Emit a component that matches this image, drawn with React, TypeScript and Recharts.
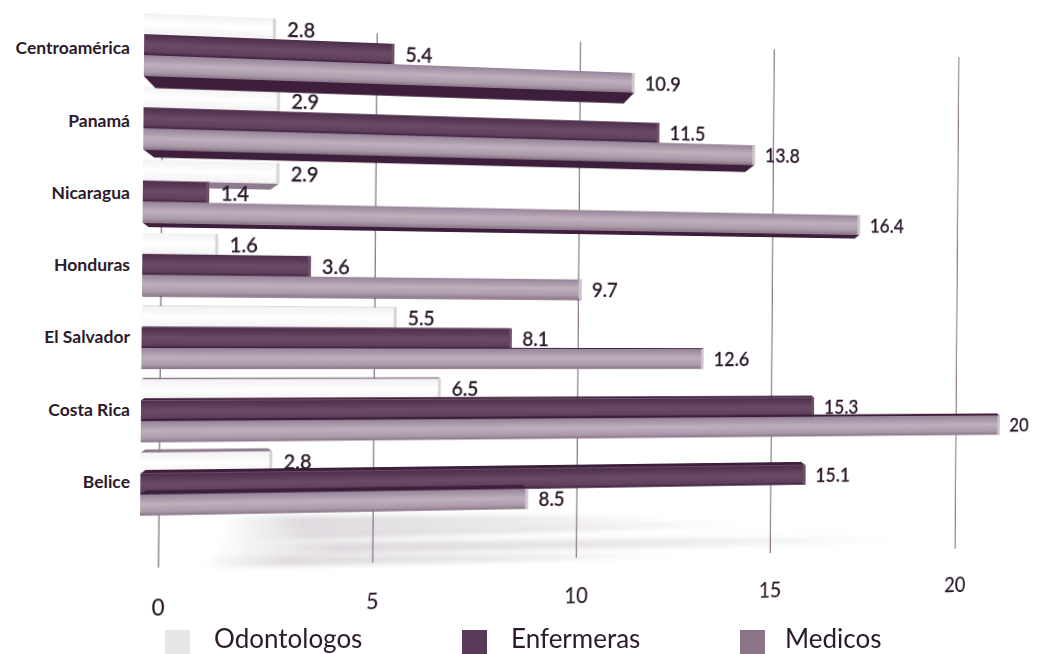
import React from 'react';
import { BarChart, Bar, XAxis, YAxis, CartesianGrid, LabelList } from 'recharts';

const paises = ['Centroamérica', 'Panamá', 'Nicaragua', 'Honduras', 'El Salvador', 'Costa Rica', 'Belice'];
const odontologos = [2.8, 2.9, 2.9, 1.6, 5.5, 6.5, 2.8];
const enfermeras = [5.4, 11.5, 1.4, 3.6, 8.1, 15.3, 15.1];
const medicos = [10.9, 13.8, 16.4, 9.7, 12.6, 20, 8.5];
const escala = [0, 5, 10, 15, 20];

const data = paises.map((pais, i) => ({
  pais,
  odontologos: odontologos[i],
  enfermeras: enfermeras[i],
  medicos: medicos[i],
}));

const TEXT = '#2c1a2b';
const FONT = 'Lato, "Open Sans", sans-serif';
const HORIZON = 300;

// front face plus the side of the bar that shows from the viewer's height
const bar3d = (gradient: string, side: string, cap: string) => (props: any) => {
  const { x, y, width, height } = props;
  const mid = y + height / 2;
  const above = mid < HORIZON;
  const depth = above ? (HORIZON - mid) * 0.05 : (mid - HORIZON) * 0.02;
  const chamfer = Math.min(depth * 1.4, 12);
  const right = x + width;
  const faceEdge = above
    ? `${x},${y + height} ${right},${y + height} ${right - chamfer},${y + height + depth} ${x + chamfer},${y + height + depth}`
    : `${x},${y} ${right},${y} ${right - chamfer},${y - depth} ${x + chamfer},${y - depth}`;
  return (
    <g>
      <polygon points={faceEdge} fill={side} />
      <rect x={x} y={y} width={width} height={height} fill={`url(#${gradient})`} />
      <rect x={right - 3} y={y} width={3} height={height} fill={cap} />
    </g>
  );
};

const series = [
  { key: 'odontologos', name: 'Odontologos', swatch: '#e9e6e9', shape: bar3d('gradOdonto', '#8d7a8b', '#d8d3d8') },
  { key: 'enfermeras', name: 'Enfermeras', swatch: '#59395a', shape: bar3d('gradEnf', '#3d1f3b', '#6f5169') },
  { key: 'medicos', name: 'Medicos', swatch: '#8c7488', shape: bar3d('gradMed', '#3d1f3b', '#cfc5cd') },
];

const streaks = [
  '224,516 668,515 668,520 222,531',
  '222,531 744,520 744,526 218,543',
  '218,543 897,536 897,543 212,556',
  '212,556 680,553 680,558 200,568',
];

export default function App() {
  return (
    <div style={{ position: 'absolute', left: 0, top: 0, width: 1039, height: 654, overflow: 'hidden', background: '#fff', fontFamily: FONT }}>
      {/* flat layer: country names and floor shading */}
      <div style={{ position: 'absolute', left: 0, top: 0 }}>
        <BarChart width={1039} height={654} layout="vertical" data={data} margin={{ top: 12, right: 0, bottom: 86, left: 0 }}>
          <defs>
            <linearGradient id="gradFloor" x1="0" y1="0" x2="1" y2="0">
              <stop offset="0" stopColor="#dcd8dc" stopOpacity="0" />
              <stop offset="0.18" stopColor="#dcd8dc" stopOpacity="0.95" />
              <stop offset="0.65" stopColor="#dcd8dc" stopOpacity="0.6" />
              <stop offset="1" stopColor="#dcd8dc" stopOpacity="0" />
            </linearGradient>
            <filter id="floorBlur" x="-5%" y="-20%" width="110%" height="140%">
              <feGaussianBlur stdDeviation="2.5" />
            </filter>
          </defs>
          <XAxis type="number" hide domain={[0, 20]} />
          <YAxis
            type="category"
            dataKey="pais"
            width={143}
            interval={0}
            padding={{ top: 0, bottom: 50 }}
            axisLine={false}
            tickLine={false}
            tickMargin={7}
            tick={{ fill: TEXT, fontSize: 17.5, fontWeight: 700, fontFamily: FONT }}
          />
          <g filter="url(#floorBlur)">
            {streaks.map((points) => (
              <polygon key={points} points={points} fill="url(#gradFloor)" />
            ))}
          </g>
        </BarChart>
      </div>

      {/* bars, grid and scale share one receding plane */}
      <div
        style={{
          position: 'absolute',
          left: 0,
          top: 0,
          transformOrigin: '142px 290px',
          transform: 'perspective(1500px) rotateY(10deg) rotateZ(0.5deg)',
        }}
      >
        <BarChart
          width={1222}
          height={654}
          layout="vertical"
          data={data}
          barCategoryGap={5}
          barGap={0}
          margin={{ top: 8, right: 110, bottom: 56, left: 142 }}
        >
          <defs>
            <linearGradient id="gradOdonto" x1="0" y1="0" x2="0" y2="1">
              <stop offset="0" stopColor="#f3f1f3" />
              <stop offset="0.5" stopColor="#ffffff" />
              <stop offset="1" stopColor="#f4f2f4" />
            </linearGradient>
            <linearGradient id="gradEnf" x1="0" y1="0" x2="0" y2="1">
              <stop offset="0" stopColor="#4d2e4a" />
              <stop offset="0.5" stopColor="#6a4b66" />
              <stop offset="0.85" stopColor="#5f3f5b" />
              <stop offset="1" stopColor="#3d1f3b" />
            </linearGradient>
            <linearGradient id="gradMed" x1="0" y1="0" x2="0" y2="1">
              <stop offset="0" stopColor="#97839a" />
              <stop offset="0.45" stopColor="#bdb0bb" />
              <stop offset="0.8" stopColor="#ab9ba9" />
              <stop offset="1" stopColor="#8a7488" />
            </linearGradient>
          </defs>
          <XAxis xAxisId="bars" type="number" hide domain={[0, 20]} />
          <XAxis
            xAxisId="grid"
            type="number"
            domain={[-0.43, 21.22]}
            ticks={escala}
            allowDataOverflow
            axisLine={false}
            tickLine={false}
            tickMargin={0}
            tick={{ fill: TEXT, fontSize: 23, fontWeight: 500, fontFamily: FONT, dy: -4 }}
          />
          <YAxis type="category" dataKey="pais" hide width={0} padding={{ top: 0, bottom: 47 }} />
          <CartesianGrid xAxisId="grid" horizontal={false} verticalValues={escala} y={24} height={544} stroke="#8f7c8d" strokeWidth={1.4} />
          {series.map((s) => (
            <Bar key={s.key} xAxisId="bars" dataKey={s.key} name={s.name} shape={s.shape} isAnimationActive={false}>
              <LabelList
                dataKey={s.key}
                position="right"
                offset={12}
                fill={TEXT}
                stroke={TEXT}
                strokeWidth={0.3}
                fontSize={21}
                fontWeight={500}
                fontFamily={FONT}
              />
            </Bar>
          ))}
        </BarChart>
      </div>

      <div style={{ position: 'absolute', left: 0, top: 622, width: 1039, height: 32 }}>
        {series.map((s, i) => (
          <div key={s.key} style={{ position: 'absolute', left: [165, 462, 740][i], top: 0, display: 'flex', alignItems: 'flex-start' }}>
            <span style={{ display: 'block', width: 25, height: 24, marginTop: 8, background: s.swatch }} />
            <span style={{ marginLeft: [24, 24, 20][i], fontSize: 26, lineHeight: '32px', color: TEXT }}>{s.name}</span>
          </div>
        ))}
      </div>
    </div>
  );
}
